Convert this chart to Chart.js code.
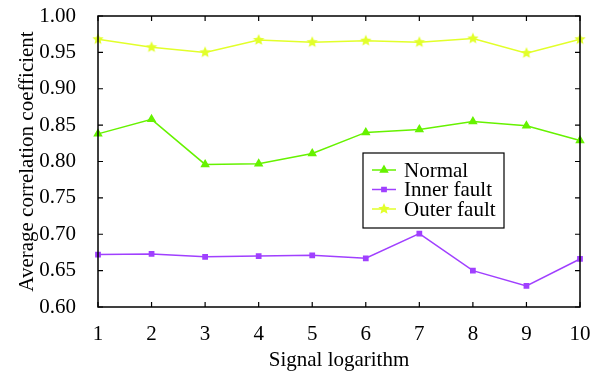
<!DOCTYPE html>
<html>
<head>
<meta charset="utf-8">
<script src="https://cdn.jsdelivr.net/npm/chart.js@4"></script>
<style>
  html, body { margin: 0; padding: 0; background: #fff; }
  #wrap { width: 600px; height: 373px; }
</style>
</head>
<body>
<div id="wrap"><canvas id="myChart"></canvas></div>
<script>
const labels = ['1', '2', '3', '4', '5', '6', '7', '8', '9', '10']
const normal = [0.838, 0.858, 0.796, 0.797, 0.811, 0.840, 0.844, 0.855, 0.849, 0.829]
const inner = [0.672, 0.673, 0.669, 0.670, 0.671, 0.667, 0.701, 0.650, 0.629, 0.666]
const outer = [0.968, 0.957, 0.950, 0.967, 0.964, 0.966, 0.964, 0.969, 0.949, 0.968]
const yTicks = [0.60, 0.65, 0.70, 0.75, 0.80, 0.85, 0.90, 0.95, 1.00]

const font = 'Liberation Serif'

// filled five point star marker
const starImg = (color, r) => {
	const c = document.createElement('canvas')
	c.width = c.height = r * 2 + 2
	const g = c.getContext('2d')
	g.fillStyle = color
	g.beginPath()
	for (let i = 0; i < 10; i++) {
		const rr = i % 2 ? r * 0.45 : r
		const a = -Math.PI / 2 + i * Math.PI / 5
		g.lineTo(r + 1 + rr * Math.cos(a), r + 1 + rr * Math.sin(a))
	}
	g.closePath()
	g.fill()
	return c
}

// box, inward ticks on all four sides, legend inside the plot
const frame = {
	id: 'frame',
	afterDatasetsDraw(chart) {
		const { ctx, chartArea: a, scales } = chart
		ctx.save()
		ctx.strokeStyle = '#000'
		ctx.lineWidth = 1.5
		ctx.strokeRect(a.left, a.top, a.right - a.left, a.bottom - a.top)
		ctx.lineWidth = 1.2
		ctx.beginPath()
		labels.forEach((l, i) => {
			const x = scales.x.getPixelForValue(i)
			ctx.moveTo(x, a.bottom); ctx.lineTo(x, a.bottom - 5)
			ctx.moveTo(x, a.top); ctx.lineTo(x, a.top + 5)
		})
		yTicks.forEach((v) => {
			const y = scales.y.getPixelForValue(v)
			ctx.moveTo(a.left, y); ctx.lineTo(a.left + 5, y)
			ctx.moveTo(a.right, y); ctx.lineTo(a.right - 5, y)
		})
		ctx.stroke()

		// legend
		const lx = 363, ly = 153, lw = 141, lh = 75
		ctx.fillStyle = '#fff'
		ctx.fillRect(lx, ly, lw, lh)
		ctx.strokeStyle = '#000'
		ctx.lineWidth = 1.2
		ctx.strokeRect(lx, ly, lw, lh)
		ctx.font = '21px ' + font
		ctx.textBaseline = 'middle'
		chart.data.datasets.forEach((ds, i) => {
			const y = ly + 17 + i * 19.5
			ctx.strokeStyle = ds.borderColor
			ctx.fillStyle = ds.backgroundColor
			ctx.lineWidth = 1.5
			ctx.beginPath()
			ctx.moveTo(lx + 9, y); ctx.lineTo(lx + 33, y)
			ctx.stroke()
			Chart.helpers.drawPoint(ctx, {
				pointStyle: ds.pointStyle, radius: ds.pointRadius, borderWidth: 1
			}, lx + 21, y)
			ctx.fillStyle = '#000'
			ctx.fillText(ds.label, lx + 41, y + 1)
		})
		ctx.restore()
	}
}

const ctx = document.getElementById('myChart')
new Chart(ctx, {
	type: 'line',
	data: {
		labels: labels,
		datasets: [
			{
				label: 'Normal',
				data: normal,
				borderColor: '#66f200',
				backgroundColor: '#66f200',
				borderWidth: 1.5,
				pointStyle: 'triangle',
				pointRadius: 4,
			},
			{
				label: 'Inner fault',
				data: inner,
				borderColor: '#a040ff',
				backgroundColor: '#a040ff',
				borderWidth: 1.5,
				pointStyle: 'rect',
				pointRadius: 3,
			},
			{
				label: 'Outer fault',
				data: outer,
				borderColor: '#e2ff2a',
				backgroundColor: '#e2ff2a',
				borderWidth: 1.5,
				pointStyle: starImg('#e2ff2a', 6),
				pointRadius: 5,
			},
		],
	},
	options: {
		responsive: true,
		maintainAspectRatio: false,
		animation: false,
		layout: { padding: { top: 16, right: 20, left: 0, bottom: 0 } },
		plugins: {
			legend: { display: false },
			tooltip: { enabled: false },
		},
		scales: {
			x: {
				offset: false,
				grid: { display: false },
				border: { display: false },
				ticks: {
					color: '#000',
					font: { family: font, size: 21 },
					padding: 7,
					maxRotation: 0,
				},
				title: {
					display: true,
					text: 'Signal logarithm',
					color: '#000',
					font: { family: font, size: 21 },
					padding: { top: 1, bottom: 0 },
				},
				afterFit(scale) {
					scale.height = 66
					scale.paddingLeft = 0
					scale.paddingRight = 0
				},
			},
			y: {
				min: 0.6,
				max: 1.0,
				grid: { display: false },
				border: { display: false },
				afterBuildTicks(scale) { scale.ticks = yTicks.map((v) => ({ value: v })) },
				ticks: {
					color: '#000',
					font: { family: font, size: 21 },
					padding: 14,
					callback: (v) => v.toFixed(2),
				},
				title: {
					display: true,
					text: 'Average correlation coefficient',
					color: '#000',
					font: { family: font, size: 21 },
					padding: { top: 15, bottom: 0 },
				},
				afterFit(scale) {
					scale.width = 98
					scale.paddingTop = 0
					scale.paddingBottom = 0
				},
			},
		},
	},
	plugins: [frame],
})
</script>
</body>
</html>
